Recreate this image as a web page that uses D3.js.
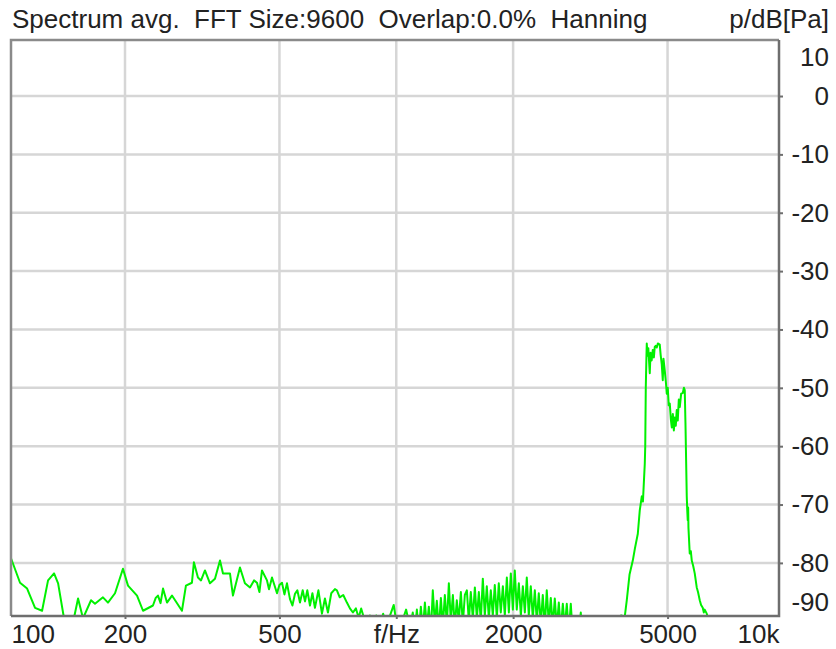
<!DOCTYPE html>
<html lang="en">
<head>
<meta charset="UTF-8">
<title>Spectrum avg.</title>
<script src="https://cdn.jsdelivr.net/npm/d3@7"></script>
<style>
  body { margin: 0; background: #fff; }
  svg { display: block; font-family: "Liberation Sans", Arial, sans-serif; }
</style>
</head>
<body>
<div id="chart"></div>
<script>
// --- data (frequency in Hz, level in dB re 1 Pa) ---
const titleText = "Spectrum avg.  FFT Size:9600  Overlap:0.0%  Hanning"
const unitText = "p/dB[Pa]"

const xTickValues = [100, 200, 500, 1000, 2000, 5000, 10000]
const xTickLabels = ["100", "200", "500", "f/Hz", "2000", "5000", "10k"]
const xGridValues = [200, 500, 1000, 2000, 5000]
const yTickValues = [10, 0, -10, -20, -30, -40, -50, -60, -70, -80, -90]

// 100 Hz .. 1.1 kHz, coarse bins
const lowBand = [
  [101.7, -79.2], [107.3, -83.4], [111.9, -84.4], [117.3, -87.7], [122.3, -88.2],
  [126.7, -83.0], [131.3, -81.8], [134.5, -83.5], [140.1, -90.5], [146.1, -91.0],
  [151.4, -86.1], [155.9, -89.5], [163.5, -86.4], [167.4, -87.0], [175.5, -85.9],
  [180.8, -86.8], [188.5, -85.2], [197.6, -81.0], [203.6, -83.9], [214.8, -85.6],
  [222.6, -88.2], [236.1, -87.3], [240.0, -86.0], [243.2, -85.6], [247.0, -86.9],
  [250.6, -84.4], [256.6, -86.8], [264.3, -85.6], [280.4, -88.2], [287.1, -83.9],
  [297.5, -83.4], [301.0, -79.9], [308.3, -82.5], [314.0, -83.0], [321.4, -81.3],
  [331.1, -83.5], [341.1, -82.7], [351.4, -79.6], [357.7, -81.8], [372.8, -81.8],
  [379.5, -85.6], [395.6, -80.8], [407.4, -83.5], [419.8, -84.2], [430.0, -83.0],
  [437.6, -83.4], [444.0, -85.0], [450.8, -81.3], [464.4, -83.0], [470.0, -84.5],
  [478.4, -82.5], [492.8, -85.2], [500.0, -83.8], [507.6, -83.4], [515.0, -85.4],
  [522.9, -83.5], [532.3, -86.2], [540.0, -87.3], [548.3, -85.3], [556.0, -84.7],
  [564.8, -86.8], [574.0, -84.7], [581.8, -86.6], [590.0, -84.7], [599.3, -87.3],
  [608.0, -85.2], [617.2, -87.7], [630.0, -84.7], [643.4, -88.7], [654.9, -86.1],
  [666.6, -88.5], [680.0, -85.2], [695.0, -84.5], [703.1, -84.7], [715.0, -85.9],
  [730.0, -85.5], [746.1, -86.8], [759.5, -87.8], [773.2, -88.5], [787.0, -87.8],
  [800.0, -89.4], [812.0, -87.8], [826.0, -89.5], [840.1, -91.0], [855.0, -89.0],
  [870.0, -91.5], [888.0, -89.0], [905.0, -91.0], [925.0, -88.7], [945.0, -91.0],
  [965.0, -88.9], [985.0, -87.2], [1005.0, -91.0], [1030.0, -90.5], [1060.0, -88.0],
  [1085.0, -91.0]
]

// 1.1 kHz .. 3 kHz, dense noise floor
const midBand = [
  [1103, -88.5], [1116, -92.0], [1130, -88.0], [1143, -92.0], [1157, -87.5],
  [1171, -91.5], [1185, -86.8], [1199, -91.0], [1213, -87.5], [1228, -92.0],
  [1242, -84.7], [1257, -90.5], [1272, -86.5], [1287, -91.5], [1303, -86.0],
  [1318, -91.0], [1334, -85.5], [1350, -90.5], [1366, -83.5], [1382, -90.0],
  [1399, -85.5], [1415, -91.0], [1432, -86.4], [1449, -90.0], [1467, -85.0],
  [1484, -90.5], [1502, -85.5], [1520, -84.7], [1538, -90.0], [1556, -85.0],
  [1575, -89.5], [1594, -84.2], [1613, -89.5], [1632, -85.0], [1651, -90.0],
  [1671, -82.7], [1691, -89.0], [1711, -84.0], [1732, -89.5], [1752, -84.7],
  [1773, -89.0], [1794, -83.8], [1816, -89.5], [1837, -83.5], [1859, -88.5],
  [1882, -84.0], [1904, -89.0], [1927, -82.5], [1950, -88.5], [1973, -81.8],
  [1997, -88.0], [2020, -81.3], [2044, -88.0], [2069, -83.5], [2094, -89.0],
  [2119, -84.0], [2144, -88.5], [2169, -82.5], [2195, -89.0], [2221, -84.0],
  [2248, -89.5], [2275, -84.7], [2302, -90.0], [2329, -85.2], [2357, -90.5],
  [2385, -85.5], [2414, -91.0], [2442, -84.7], [2472, -90.5], [2501, -86.0],
  [2531, -91.0], [2561, -86.1], [2592, -91.0], [2623, -86.8], [2654, -91.5],
  [2686, -87.0], [2718, -91.0], [2750, -87.0], [2783, -92.0], [2816, -87.0],
  [2850, -92.5], [2884, -89.5], [2918, -93.0], [2953, -92.0], [2988, -88.5],
  [3020, -93.0], [3150, -95.0], [3400, -96.0], [3600, -93.0]
]

// 3.7 kHz .. 10 kHz, tonal band
const peakBand = [
  [3722, -89.3], [3800, -89.0], [3879, -89.2], [3926, -86.4], [3990, -82.0],
  [4068, -79.6], [4120, -77.5], [4191, -75.0], [4240, -71.0], [4291, -68.6],
  [4320, -69.5], [4368, -63.0], [4380, -60.0], [4394, -50.0], [4410, -45.0],
  [4420, -42.4], [4440, -44.5], [4460, -43.2], [4499, -47.5], [4520, -44.0],
  [4550, -45.3], [4580, -43.5], [4610, -44.8], [4634, -43.0], [4660, -42.8],
  [4690, -43.1], [4720, -42.4], [4774, -42.6], [4800, -44.4], [4831, -46.0],
  [4860, -48.7], [4880, -45.0], [4917, -47.0], [4950, -49.0], [4977, -51.0],
  [5006, -50.0], [5035, -53.0], [5066, -52.7], [5100, -55.5], [5127, -56.8],
  [5160, -54.5], [5190, -57.3], [5219, -55.1], [5250, -56.5], [5280, -53.8],
  [5312, -55.6], [5345, -52.0], [5376, -53.3], [5420, -51.0], [5472, -50.9],
  [5510, -50.0], [5537, -50.4], [5560, -56.0], [5603, -68.6], [5620, -71.0],
  [5636, -72.7], [5650, -70.5], [5660, -74.0], [5703, -78.4], [5740, -78.0],
  [5772, -79.6], [5820, -80.5], [5875, -81.8], [5910, -83.0], [5945, -84.2],
  [5990, -85.0], [6052, -86.4], [6100, -87.2], [6161, -87.7], [6200, -88.5],
  [6233, -88.0], [6309, -88.7], [6360, -89.5], [6422, -90.0], [6600, -94.0],
  [7000, -97.0], [9700, -98.0]
]

// --- layout ---
const w = 836
const h = 649
const plotLeft = 11, plotRight = 779, plotTop = 40, plotBottom = 616
const fontSize = "26px"

const svg = d3.select("#chart").append("svg")
  .attr("width", w)
  .attr("height", h)

const x = d3.scaleLog().domain([101.7, 9685]).range([plotLeft, plotRight])
const y = d3.scaleLinear().domain([-89.1, 9.6]).range([plotBottom, plotTop])

// grid
svg.append("g")
  .selectAll("line")
  .data(xGridValues)
  .join("line")
  .attr("x1", d => x(d)).attr("x2", d => x(d))
  .attr("y1", plotTop).attr("y2", plotBottom)
  .attr("stroke", "#d6d6d6").attr("stroke-width", 2.5)

svg.append("g")
  .selectAll("line")
  .data(yTickValues.filter(d => y(d) > plotTop && y(d) < plotBottom))
  .join("line")
  .attr("x1", plotLeft).attr("x2", plotRight)
  .attr("y1", d => y(d)).attr("y2", d => y(d))
  .attr("stroke", "#d6d6d6").attr("stroke-width", 2.5)

// spectrum
svg.append("clipPath").attr("id", "plot-clip")
  .append("rect")
  .attr("x", plotLeft).attr("y", plotTop)
  .attr("width", plotRight - plotLeft).attr("height", plotBottom - plotTop)

const line = d3.line()
  .x(d => x(d[0]))
  .y(d => y(d[1]))

svg.append("path")
  .datum(lowBand.concat(midBand, peakBand))
  .attr("clip-path", "url(#plot-clip)")
  .attr("fill", "none")
  .attr("stroke", "#00f000")
  .attr("stroke-width", 2)
  .attr("stroke-linejoin", "round")
  .attr("d", line)

// frame
svg.append("path")
  .attr("d", `M${plotLeft},${plotBottom}V${plotTop}H${plotRight}`)
  .attr("fill", "none").attr("stroke", "#8a8a8a").attr("stroke-width", 2.5)
svg.append("path")
  .attr("d", `M${plotLeft},${plotBottom}H${plotRight}V${plotTop}`)
  .attr("fill", "none").attr("stroke", "#6e6e6e").attr("stroke-width", 2.5)

// axes
const xAxis = d3.axisBottom(x)
  .tickValues(xTickValues)
  .tickFormat((d, i) => xTickLabels[i])
  .tickSize(3)
  .tickPadding(5)

const gx = svg.append("g")
  .attr("transform", `translate(0, ${plotBottom})`)
  .call(xAxis)
gx.select(".domain").remove()
gx.selectAll(".tick line").attr("stroke", "#6e6e6e").attr("stroke-width", 2)
gx.selectAll(".tick text")
  .attr("fill", "#222")
  .style("font-size", fontSize)
  .attr("dy", "0.72em")
  .each(function (d) {
    const t = d3.select(this)
    if (d === xTickValues[0]) t.attr("text-anchor", "start").attr("x", plotLeft - x(d))
    if (d === xTickValues[xTickValues.length - 1]) t.attr("text-anchor", "end").attr("x", plotRight - x(d))
  })
gx.selectAll(".tick")
  .filter(d => d === 100 || d === 10000)
  .select("line").remove()

const yAxis = d3.axisRight(y)
  .tickValues(yTickValues)
  .tickFormat(d => String(d))
  .tickSize(4)

const gy = svg.append("g")
  .attr("transform", `translate(${plotRight}, 0)`)
  .call(yAxis)
gy.select(".domain").remove()
gy.selectAll(".tick line").attr("stroke", "#6e6e6e").attr("stroke-width", 2)
gy.selectAll(".tick text")
  .attr("fill", "#222")
  .style("font-size", fontSize)
  .attr("text-anchor", "end")
  .attr("x", 50)
  .attr("y", d => {
    const p = y(d)
    if (p < plotTop + 17) return plotTop + 17 - p
    if (p > plotBottom - 14) return plotBottom - 14 - p
    return 0
  })
gy.selectAll(".tick")
  .filter(d => y(d) < plotTop || y(d) > plotBottom)
  .select("line").remove()

// header
svg.append("text")
  .attr("x", 12).attr("y", 28)
  .attr("fill", "#222")
  .style("font-size", fontSize)
  .style("white-space", "pre")
  .text(titleText)

svg.append("text")
  .attr("x", 829).attr("y", 28)
  .attr("text-anchor", "end")
  .attr("fill", "#222")
  .style("font-size", fontSize)
  .text(unitText)
</script>
</body>
</html>
